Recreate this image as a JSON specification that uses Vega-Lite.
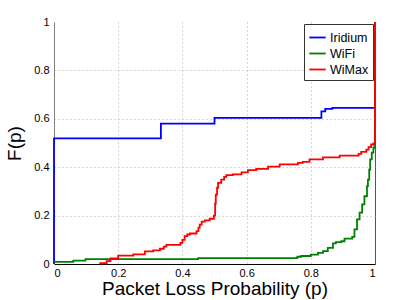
{
  "$schema": "https://vega.github.io/schema/vega-lite/v6.json",
  "width": 321,
  "height": 242,
  "autosize": {"type": "none"},
  "padding": {"left": 54, "top": 22, "right": 40, "bottom": 36},
  "config": {
    "view": {"stroke": null},
    "font": "Liberation Sans",
    "axis": {"labelFont": "Liberation Sans", "titleFont": "Liberation Sans", "labelColor": "#000", "titleColor": "#000", "titleFontWeight": "normal"}
  },
  "data": {"values": [
    {"series": "Iridium", "p": 0, "F": 0},
    {"series": "Iridium", "p": 0, "F": 0.519},
    {"series": "Iridium", "p": 0.333, "F": 0.58},
    {"series": "Iridium", "p": 0.5, "F": 0.604},
    {"series": "Iridium", "p": 0.833, "F": 0.631},
    {"series": "Iridium", "p": 0.845, "F": 0.641},
    {"series": "Iridium", "p": 0.867, "F": 0.645},
    {"series": "Iridium", "p": 1, "F": 1},
    {"series": "WiFi", "p": 0, "F": 0.009},
    {"series": "WiFi", "p": 0.06, "F": 0.014},
    {"series": "WiFi", "p": 0.098, "F": 0.02},
    {"series": "WiFi", "p": 0.449, "F": 0.024},
    {"series": "WiFi", "p": 0.758, "F": 0.03},
    {"series": "WiFi", "p": 0.77, "F": 0.033},
    {"series": "WiFi", "p": 0.8, "F": 0.039},
    {"series": "WiFi", "p": 0.822, "F": 0.046},
    {"series": "WiFi", "p": 0.838, "F": 0.053},
    {"series": "WiFi", "p": 0.853, "F": 0.067},
    {"series": "WiFi", "p": 0.869, "F": 0.085},
    {"series": "WiFi", "p": 0.878, "F": 0.09},
    {"series": "WiFi", "p": 0.895, "F": 0.094},
    {"series": "WiFi", "p": 0.905, "F": 0.105},
    {"series": "WiFi", "p": 0.929, "F": 0.112},
    {"series": "WiFi", "p": 0.936, "F": 0.143},
    {"series": "WiFi", "p": 0.944, "F": 0.184},
    {"series": "WiFi", "p": 0.952, "F": 0.212},
    {"series": "WiFi", "p": 0.96, "F": 0.246},
    {"series": "WiFi", "p": 0.967, "F": 0.28},
    {"series": "WiFi", "p": 0.975, "F": 0.322},
    {"series": "WiFi", "p": 0.978, "F": 0.349},
    {"series": "WiFi", "p": 0.982, "F": 0.39},
    {"series": "WiFi", "p": 0.985, "F": 0.432},
    {"series": "WiFi", "p": 0.99, "F": 0.46},
    {"series": "WiFi", "p": 0.995, "F": 0.48},
    {"series": "WiFi", "p": 0.998, "F": 0.49},
    {"series": "WiFi", "p": 1, "F": 1},
    {"series": "WiMax", "p": 0.141, "F": 0.003},
    {"series": "WiMax", "p": 0.164, "F": 0.012},
    {"series": "WiMax", "p": 0.176, "F": 0.023},
    {"series": "WiMax", "p": 0.2, "F": 0.035},
    {"series": "WiMax", "p": 0.247, "F": 0.04},
    {"series": "WiMax", "p": 0.283, "F": 0.052},
    {"series": "WiMax", "p": 0.309, "F": 0.056},
    {"series": "WiMax", "p": 0.33, "F": 0.063},
    {"series": "WiMax", "p": 0.342, "F": 0.072},
    {"series": "WiMax", "p": 0.35, "F": 0.079},
    {"series": "WiMax", "p": 0.394, "F": 0.087},
    {"series": "WiMax", "p": 0.4, "F": 0.1},
    {"series": "WiMax", "p": 0.407, "F": 0.115},
    {"series": "WiMax", "p": 0.415, "F": 0.122},
    {"series": "WiMax", "p": 0.423, "F": 0.126},
    {"series": "WiMax", "p": 0.444, "F": 0.136},
    {"series": "WiMax", "p": 0.45, "F": 0.15},
    {"series": "WiMax", "p": 0.454, "F": 0.163},
    {"series": "WiMax", "p": 0.46, "F": 0.175},
    {"series": "WiMax", "p": 0.47, "F": 0.18},
    {"series": "WiMax", "p": 0.485, "F": 0.187},
    {"series": "WiMax", "p": 0.498, "F": 0.2},
    {"series": "WiMax", "p": 0.502, "F": 0.25},
    {"series": "WiMax", "p": 0.504, "F": 0.287},
    {"series": "WiMax", "p": 0.508, "F": 0.315},
    {"series": "WiMax", "p": 0.511, "F": 0.335},
    {"series": "WiMax", "p": 0.521, "F": 0.349},
    {"series": "WiMax", "p": 0.53, "F": 0.36},
    {"series": "WiMax", "p": 0.537, "F": 0.367},
    {"series": "WiMax", "p": 0.557, "F": 0.37},
    {"series": "WiMax", "p": 0.584, "F": 0.379},
    {"series": "WiMax", "p": 0.604, "F": 0.388},
    {"series": "WiMax", "p": 0.63, "F": 0.393},
    {"series": "WiMax", "p": 0.667, "F": 0.402},
    {"series": "WiMax", "p": 0.703, "F": 0.412},
    {"series": "WiMax", "p": 0.76, "F": 0.418},
    {"series": "WiMax", "p": 0.775, "F": 0.422},
    {"series": "WiMax", "p": 0.796, "F": 0.432},
    {"series": "WiMax", "p": 0.838, "F": 0.441},
    {"series": "WiMax", "p": 0.89, "F": 0.448},
    {"series": "WiMax", "p": 0.949, "F": 0.455},
    {"series": "WiMax", "p": 0.957, "F": 0.463},
    {"series": "WiMax", "p": 0.973, "F": 0.473},
    {"series": "WiMax", "p": 0.98, "F": 0.483},
    {"series": "WiMax", "p": 0.988, "F": 0.494},
    {"series": "WiMax", "p": 0.995, "F": 0.498},
    {"series": "WiMax", "p": 1, "F": 1}
  ]},
  "mark": {"type": "line", "interpolate": "step-after", "strokeWidth": 1.8, "clip": false},
  "encoding": {
    "x": {
      "field": "p", "type": "quantitative",
      "scale": {"domain": [0, 1], "nice": false},
      "axis": {
        "title": "Packet Loss Probability (p)",
        "values": [0, 0.2, 0.4, 0.6, 0.8, 1],
        "format": "~g",
        "labelFontSize": 11,
        "titleFontSize": 19,
        "titlePadding": 1,
        "labelPadding": 3,
        "ticks": false,
        "domainColor": "#000",
        "domainWidth": 1,
        "grid": true,
        "gridColor": {"condition": {"test": "datum.value == 1", "value": "#555"}, "value": "#b0b0b0"},
        "gridDash": {"condition": {"test": "datum.value == 1", "value": []}, "value": [1, 3]},
        "gridWidth": 1
      }
    },
    "y": {
      "field": "F", "type": "quantitative",
      "scale": {"domain": [0, 1], "nice": false},
      "axis": {
        "title": "F(p)",
        "values": [0, 0.2, 0.4, 0.6, 0.8, 1],
        "format": "~g",
        "labelFontSize": 11,
        "titleFontSize": 19,
        "titlePadding": 9,
        "labelPadding": 5,
        "ticks": false,
        "domainColor": "#808080",
        "domainWidth": 1,
        "grid": true,
        "gridColor": "#b0b0b0",
        "gridOpacity": {"condition": {"test": "datum.value == 1 || datum.value == 0", "value": 0}, "value": 1},
        "gridDash": [1, 3],
        "gridWidth": 1
      }
    },
    "color": {
      "field": "series", "type": "nominal",
      "scale": {"domain": ["Iridium", "WiFi", "WiMax"], "range": ["#0000ff", "#008000", "#ff0000"]},
      "legend": {
        "title": null,
        "orient": "top-right",
        "offset": 2,
        "symbolType": "stroke",
        "symbolSize": 270,
        "symbolStrokeWidth": 1.8,
        "labelFont": "Liberation Sans",
        "labelFontSize": 12.5,
        "labelColor": "#000",
        "labelOffset": 3,
        "rowPadding": 0,
        "padding": 4,
        "strokeColor": "#333",
        "fillColor": "#fff",
        "cornerRadius": 0
      }
    }
  }
}
